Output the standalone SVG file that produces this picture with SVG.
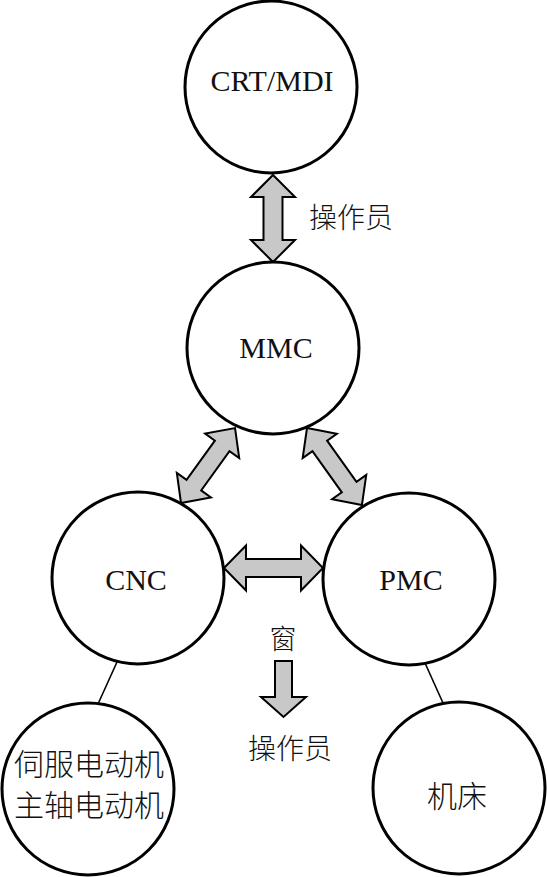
<svg xmlns="http://www.w3.org/2000/svg" width="547" height="877" viewBox="0 0 547 877">
<style>
.node circle{fill:#fff;stroke:#000;stroke-width:3}
.lat{font-family:"Liberation Serif","Times New Roman",serif;font-size:30px;fill:#111;text-anchor:middle}
.cjk{font-family:"Noto Sans CJK SC","Noto Sans",sans-serif;font-size:28px;font-weight:300;fill:#111;text-anchor:middle}
.arrow{fill:#c8c8c8;stroke:#000;stroke-width:2;stroke-linejoin:miter}
.link{stroke:#000;stroke-width:1.6;fill:none}
</style>
<rect width="547" height="877" fill="#fff"/>
<g id="connectors">
<line class="link" x1="117" y1="662" x2="98" y2="704"/>
<line class="link" x1="425" y1="663" x2="443" y2="703"/>
<path class="arrow" transform="translate(273,175) rotate(90)" d="M0,0 L22,-22 L22,-9.5 L65,-9.5 L65,-22 L87,0 L65,22 L65,9.5 L22,9.5 L22,22 Z"/>
<path class="arrow" transform="translate(224,568)" d="M0,0 L22,-22.5 L22,-9 L77,-9 L77,-22.5 L99,0 L77,22.5 L77,9 L22,9 L22,22.5 Z"/>
<path class="arrow" transform="translate(181,503) rotate(-54.2)" d="M0,0 L22,-21 L22,-9 L70.4,-9 L70.4,-21 L92.4,0 L70.4,21 L70.4,9 L22,9 L22,21 Z"/>
<path class="arrow" transform="translate(307,428) rotate(54.5)" d="M0,0 L22,-21 L22,-9 L72.6,-9 L72.6,-21 L94.6,0 L72.6,21 L72.6,9 L22,9 L22,21 Z"/>
<path class="arrow" d="M275,661 L292,661 L292,697 L306,697 L283.5,717 L261,697 L275,697 Z"/>
<text class="cjk" x="351" y="228">操作员</text>
<text class="cjk" x="283" y="649" style="font-size:27px">窗</text>
<text class="cjk" x="290" y="759">操作员</text>
</g>
<g id="crt" class="node"><circle cx="271" cy="87" r="86"/><text class="lat" x="272" y="91">CRT/MDI</text></g>
<g id="mmc" class="node"><circle cx="273" cy="348" r="86"/><text class="lat" x="276" y="358">MMC</text></g>
<g id="cnc" class="node"><circle cx="138" cy="578" r="86"/><text class="lat" x="136" y="590">CNC</text></g>
<g id="pmc" class="node"><circle cx="409" cy="579" r="86"/><text class="lat" x="411" y="590">PMC</text></g>
<g id="motor" class="node"><circle cx="88" cy="789" r="86"/><text class="cjk" x="89" y="775" style="font-size:30px">伺服电动机</text><text class="cjk" x="89" y="816" style="font-size:30px">主轴电动机</text></g>
<g id="machine" class="node"><circle cx="459" cy="788" r="86"/><text class="cjk" x="457" y="807" style="font-size:30px">机床</text></g>
</svg>
